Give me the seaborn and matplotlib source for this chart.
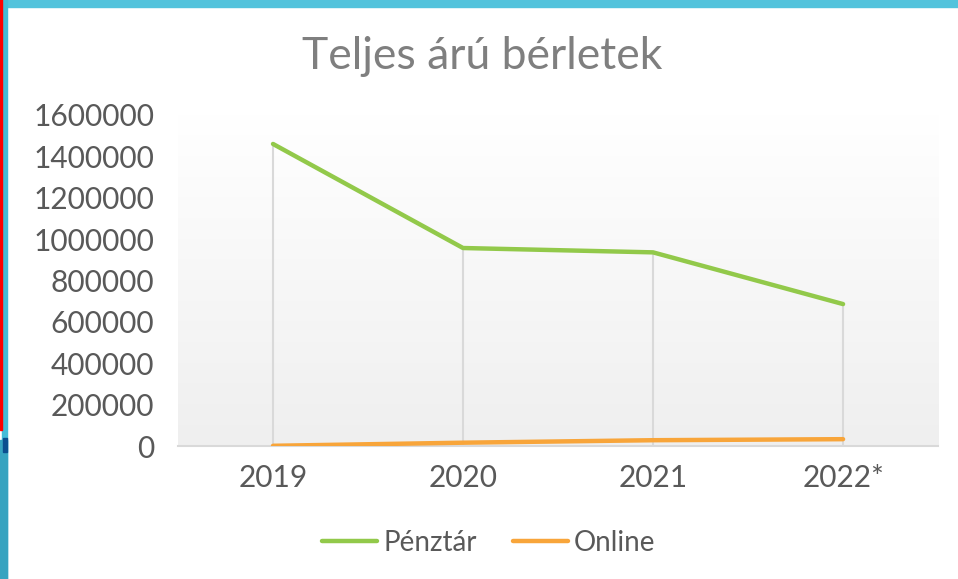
import numpy as np
import pandas as pd
import seaborn as sns
import matplotlib.pyplot as plt
from matplotlib.patches import Rectangle

# data
years = ["2019", "2020", "2021", "2022*"]
penztar = [1460000, 957000, 936000, 686000]
online = [1000, 16000, 28000, 33000]
series_names = ["Pénztár", "Online"]
yticks = [0, 200000, 400000, 600000, 800000, 1000000, 1200000, 1400000, 1600000]

green = "#92c94a"
orange = "#f8a53a"

df = pd.DataFrame({
    "year": years * 2,
    "value": penztar + online,
    "series": [series_names[0]] * len(years) + [series_names[1]] * len(years),
})

sns.set_style("white")
plt.rcParams["font.family"] = ["Lato", "DejaVu Sans"]

fig = plt.figure(figsize=(9.58, 5.79), dpi=100)
ax = fig.add_axes([0.1858, 0.2297, 0.7934, 0.5717])

# plot area gradient (white at top -> light gray at bottom)
grad = np.linspace(1.0, 0.0, 256).reshape(-1, 1)
ax.imshow(grad, extent=[0, 1, 0, 1], transform=ax.transAxes, aspect="auto",
          cmap=plt.matplotlib.colors.LinearSegmentedColormap.from_list(
              "bg", ["#efefef", "#ffffff"]), zorder=0)

# drop lines
xs = np.arange(len(years))
tops = np.maximum(penztar, online)
ax.vlines(xs, 0, tops, color="#d9d9d9", lw=1.5, zorder=1)

sns.lineplot(data=df, x="year", y="value", hue="series",
             palette=[green, orange], lw=3.2, ax=ax, zorder=3,
             solid_capstyle="round")

ax.set_xlim(-0.5, len(years) - 0.5)
ax.set_ylim(0, 1600000)
ax.set_yticks(yticks)
ax.set_yticklabels([str(t) for t in yticks])
ax.set_xlabel("")
ax.set_ylabel("")
for s in ["top", "right", "left"]:
    ax.spines[s].set_visible(False)
ax.spines["bottom"].set_color("#d9d9d9")
ax.spines["bottom"].set_linewidth(1.5)
ax.tick_params(axis="both", length=0, labelsize=21.5, colors="#595959")
ax.tick_params(axis="x", pad=13)
ax.tick_params(axis="y", pad=17)

leg = ax.legend(loc="center", ncol=2, frameon=False, fontsize=20,
                handlelength=2.0, handletextpad=0.2, columnspacing=1.3)
leg.set_bbox_to_anchor((0.51, 0.062), transform=fig.transFigure)
for t in leg.get_texts():
    t.set_color("#595959")
for h in leg.get_lines():
    h.set_linewidth(3.2)

fig.text(0.503, 0.903, "Teljes árú bérletek", ha="center", va="center",
         fontsize=32, color="#7f7f7f")

# slide decorations
fig.patches.append(Rectangle((0, 1 - 7 / 579), 1, 7 / 579, transform=fig.transFigure,
                             color="#52c3dc", zorder=5))
fig.patches.append(Rectangle((2 / 958, 0), 5 / 958, 1, transform=fig.transFigure,
                             color="#45bcd8", zorder=5))
fig.patches.append(Rectangle((0, 149 / 579), 2 / 958, 1, transform=fig.transFigure,
                             color="#ff0000", zorder=5))
fig.patches.append(Rectangle((0, 0), 7 / 958, 139 / 579, transform=fig.transFigure,
                             color="#36a3c0", zorder=5))
fig.patches.append(Rectangle((3 / 958, 127 / 579), 4 / 958, 14 / 579,
                             transform=fig.transFigure, color="#0b4f8f", zorder=6))

fig.savefig("out.png", dpi=100)
